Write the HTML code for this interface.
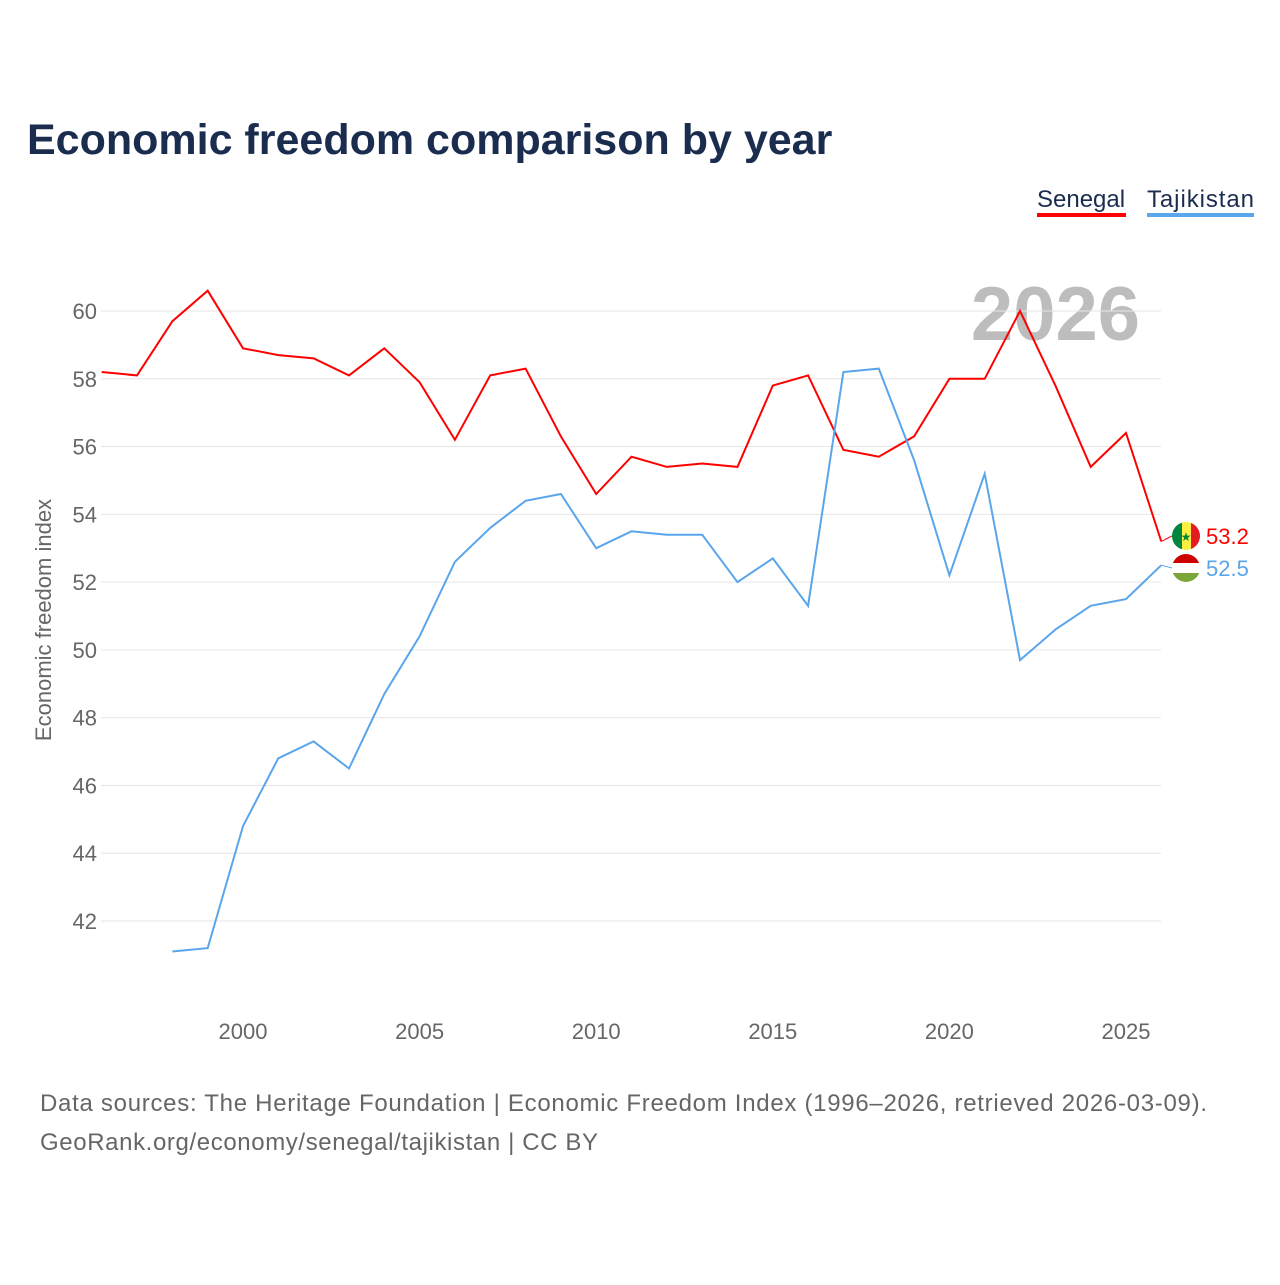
<!DOCTYPE html>
<html><head><meta charset="utf-8"><style>
body{margin:0;background:#fff;width:1280px;height:1280px;overflow:hidden;font-family:"Liberation Sans",sans-serif}
</style></head><body>
<svg width="1280" height="1280" id="svg">
<text x="27" y="154" font-size="43" font-weight="bold" fill="#1b2d4f">Economic freedom comparison by year</text>
<g>
<text x="1037" y="207" font-size="24" fill="#1b2d4f">Senegal</text>
<rect x="1037" y="213" width="89" height="4" fill="#f00"/>
<text x="1147" y="207" font-size="24" fill="#1b2d4f" textLength="107">Tajikistan</text>
<rect x="1147" y="213" width="107" height="4" fill="#5aa5eb"/>
</g>
<text x="1140" y="340" font-size="76" font-weight="bold" fill="#bdbdbd" text-anchor="end">2026</text>
<g id="grid"></g><g id="lines"></g>
<text transform="translate(51,620) rotate(-90)" font-size="22" fill="#666" text-anchor="middle">Economic freedom index</text>
<text x="40" y="1111" font-size="24" fill="#666" textLength="1167">Data sources: The Heritage Foundation | Economic Freedom Index (1996–2026, retrieved 2026-03-09).</text>
<text x="40" y="1150" font-size="24" fill="#666" textLength="558">GeoRank.org/economy/senegal/tajikistan | CC BY</text>
</svg>
<script>
const years=[1996,1997,1998,1999,2000,2001,2002,2003,2004,2005,2006,2007,2008,2009,2010,2011,2012,2013,2014,2015,2016,2017,2018,2019,2020,2021,2022,2023,2024,2025,2026];
const senegal=[58.2,58.1,59.7,60.6,58.9,58.7,58.6,58.1,58.9,57.9,56.2,58.1,58.3,56.3,54.6,55.7,55.4,55.5,55.4,57.8,58.1,55.9,55.7,56.3,58.0,58.0,60.0,57.8,55.4,56.4,53.2];
const tajikistan=[null,null,41.1,41.2,44.8,46.8,47.3,46.5,48.7,50.4,52.6,53.6,54.4,54.6,53.0,53.5,53.4,53.4,52.0,52.7,51.3,58.2,58.3,55.6,52.2,55.2,49.7,50.6,51.3,51.5,52.5];
const yTicks=[42,44,46,48,50,52,54,56,58,60];
const xTicks=[2000,2005,2010,2015,2020,2025];
const X=v=>243+(v-2000)*35.32, Y=v=>311+(60-v)*33.89;
const NS='http://www.w3.org/2000/svg';
function mk(t,a,p){const e=document.createElementNS(NS,t);for(const k in a)e.setAttribute(k,a[k]);p.appendChild(e);return e;}
const g=document.getElementById('grid'),L=document.getElementById('lines');
yTicks.forEach(t=>{
 const l=mk('line',{x1:101,x2:1161,y1:Y(t),y2:Y(t),stroke:'#e6e6e6','stroke-width':1},g);
 
 
 const s=mk('text',{x:97,y:Y(t)+8,'font-size':22,fill:'#666','text-anchor':'end'},g);s.textContent=t;
 
 
});
xTicks.forEach(t=>{
 const s=mk('text',{x:X(t),y:1039,'font-size':22,fill:'#666','text-anchor':'middle'},g);s.textContent=t;
 
 
});
function series(vals,col,name){
 let d='';vals.forEach((v,i)=>{if(v==null)return;d+=(d?'L':'M')+X(years[i]).toFixed(1)+','+Y(v).toFixed(1);});
 const p=mk('path',{d:d,fill:'none',stroke:col,'stroke-width':2},L);
 
 
}
series(senegal,'#f00','senegal');series(tajikistan,'#5aa5eb','tajikistan');
function endLabel(v,col,name,ly,flag){
 const cy=ly-8;
 mk('line',{x1:X(2026),y1:Y(v),x2:1172,y2:cy,stroke:col,'stroke-width':1},L);
 const gg=mk('g',{},L);
 
 
 flag(gg,1186,cy);
 const t=mk('text',{x:1206,y:ly,'font-size':22,fill:col},L);t.textContent=v.toFixed(1);
 
 
}
endLabel(senegal[30],'#f00','senegal',544,(p,x,y)=>{
 mk('clipPath',{id:'c1'},p);mk('circle',{cx:x,cy:y,r:14},p.lastChild);
 const q=mk('g',{'clip-path':'url(#c1)'},p);
 mk('rect',{x:x-14,y:y-14,width:10,height:28,fill:'#00853f'},q);
 mk('rect',{x:x-4,y:y-14,width:9,height:28,fill:'#fdef42'},q);
 mk('rect',{x:x+5,y:y-14,width:10,height:28,fill:'#e31b23'},q);
 const s=mk('text',{x:x,y:y+5,'font-size':12,fill:'#00853f','text-anchor':'middle'},q);s.textContent='★';
});
endLabel(tajikistan[30],'#5aa5eb','tajikistan',576,(p,x,y)=>{
 mk('clipPath',{id:'c2'},p);mk('circle',{cx:x,cy:y,r:14},p.lastChild);
 const q=mk('g',{'clip-path':'url(#c2)'},p);
 mk('rect',{x:x-14,y:y-14,width:28,height:9,fill:'#cc0000'},q);
 mk('rect',{x:x-14,y:y-5,width:28,height:10,fill:'#fff'},q);
 mk('rect',{x:x-14,y:y+5,width:28,height:9,fill:'#7aa63a'},q);
});
</script>
</body></html>
